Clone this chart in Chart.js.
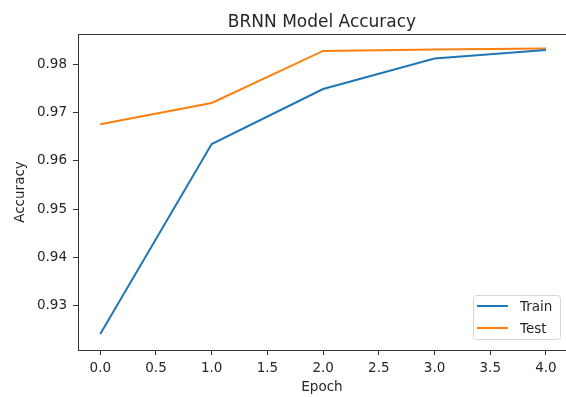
<!DOCTYPE html>
<html>
<head>
<meta charset="utf-8">
<script src="https://cdn.jsdelivr.net/npm/chart.js@4/dist/chart.umd.min.js"></script>
<style>
  html, body { margin: 0; padding: 0; background: #fff; }
  canvas { display: block; }
</style>
</head>
<body>
<canvas id="myChart" width="566" height="397"></canvas>
<script>
// values
const epochs = [0, 1, 2, 3, 4];
const trainAcc = [0.9241, 0.9635, 0.9749, 0.9812, 0.9830];
const testAcc = [0.9676, 0.9720, 0.9828, 0.9831, 0.9833];
const xTicks = [0, 0.5, 1, 1.5, 2, 2.5, 3, 3.5, 4];
const yTicks = [0.93, 0.94, 0.95, 0.96, 0.97, 0.98];

const textColor = '#262626';
const axisColor = '#333';
Chart.defaults.font.family = 'DejaVu Sans';
Chart.defaults.color = textColor;

// title, top frame line and the matplotlib style legend inside the axes
const extras = {
    id: 'extras',
    afterDraw(chart) {
        const c = chart.ctx;
        const a = chart.chartArea;
        c.save();
        c.strokeStyle = axisColor;
        c.lineWidth = 1;
        c.beginPath();
        c.moveTo(a.left, a.top + 0.5);
        c.lineTo(chart.width, a.top + 0.5);
        c.stroke();

        c.fillStyle = textColor;
        c.font = '17px "DejaVu Sans"';
        c.textAlign = 'center';
        c.textBaseline = 'alphabetic';
        c.fillText('BRNN Model Accuracy', (a.left + a.right) / 2, 27);

        // legend box
        const bx = 473, by = 295, bw = 87, bh = 44;
        c.beginPath();
        c.fillStyle = 'rgba(255,255,255,0.8)';
        c.strokeStyle = '#d6d6d6';
        c.roundRect(bx + 0.5, by + 0.5, bw, bh, 3);
        c.fill();
        c.stroke();
        c.font = '13.5px "DejaVu Sans"';
        c.textAlign = 'left';
        c.textBaseline = 'middle';
        chart.data.datasets.forEach((ds, i) => {
            const y = by + 11 + i * 22;
            c.strokeStyle = ds.borderColor;
            c.lineWidth = 2;
            c.beginPath();
            c.moveTo(bx + 4, y);
            c.lineTo(bx + 35, y);
            c.stroke();
            c.fillStyle = textColor;
            c.fillText(ds.label, bx + 47, y + 1);
        });
        c.restore();
    }
};

var ctx = document.getElementById('myChart').getContext('2d');
var myChart = new Chart(ctx, {
    type: 'line',
    data: {
        labels: epochs,
        datasets: [{
            label: 'Train',
            data: epochs.map((e, i) => ({x: e, y: trainAcc[i]})),
            borderColor: '#1f77b4',
            borderWidth: 2,
            pointRadius: 0,
            tension: 0,
            fill: false
        }, {
            label: 'Test',
            data: epochs.map((e, i) => ({x: e, y: testAcc[i]})),
            borderColor: '#ff7f0e',
            borderWidth: 2,
            pointRadius: 0,
            tension: 0,
            fill: false
        }]
    },
    options: {
        responsive: false,
        animation: false,
        layout: { padding: { top: 34, left: 0, right: 0, bottom: 0 } },
        plugins: {
            legend: { display: false },
            title: { display: false },
            tooltip: { enabled: false }
        },
        scales: {
            x: {
                type: 'linear',
                min: -0.2,
                max: 4.18,
                afterBuildTicks: s => { s.ticks = xTicks.map(v => ({value: v})); },
                afterFit: s => { s.height = 47; },
                ticks: {
                    callback: v => v.toFixed(1),
                    font: { size: 13.5 },
                    padding: 5,
                    maxRotation: 0
                },
                grid: { drawOnChartArea: false, tickLength: 5, tickColor: axisColor },
                border: { color: axisColor },
                title: { display: true, text: 'Epoch', font: { size: 13.5 }, padding: { top: 0, bottom: 1 } }
            },
            y: {
                min: 0.9208,
                max: 0.9863,
                afterBuildTicks: s => { s.ticks = yTicks.map(v => ({value: v})); },
                afterFit: s => { s.width = 78; },
                ticks: {
                    callback: v => v.toFixed(2),
                    font: { size: 13.5 },
                    padding: 6
                },
                grid: { drawOnChartArea: false, tickLength: 5, tickColor: axisColor },
                border: { color: axisColor },
                title: { display: true, text: 'Accuracy', font: { size: 13.5 }, padding: { top: 12, bottom: 0 } }
            }
        }
    },
    plugins: [extras]
});
</script>
</body>
</html>
